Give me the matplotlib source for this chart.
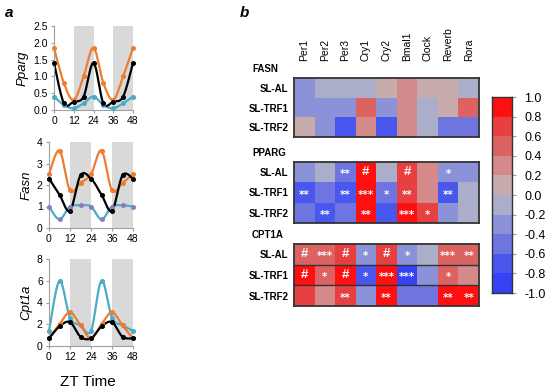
import numpy as np
import matplotlib
matplotlib.use("Agg")
import matplotlib.pyplot as plt
from matplotlib.colors import ListedColormap, BoundaryNorm

plt.rcParams['font.family'] = ['Liberation Sans', 'DejaVu Sans']

# ---------------- data: panel a ----------------
zt = [0, 6, 12, 18, 24, 30, 36, 42, 48]
pparg_orange = [1.85, 0.80, 0.30, 1.00, 1.85, 0.80, 0.30, 1.00, 1.85]
pparg_black = [1.40, 0.20, 0.25, 0.40, 1.40, 0.20, 0.25, 0.40, 1.40]
pparg_cyan = [0.40, 0.15, 0.05, 0.20, 0.40, 0.15, 0.05, 0.20, 0.40]

fasn_orange = [2.50, 3.60, 1.75, 2.10, 2.50, 3.60, 1.75, 2.10, 2.50]
fasn_black = [2.30, 1.55, 0.80, 2.45, 2.30, 1.55, 0.80, 2.45, 2.30]
fasn_cyan = [1.00, 0.40, 1.00, 1.05, 1.00, 0.40, 1.00, 1.05, 1.00]

cpt_orange = [0.70, 2.00, 3.10, 1.90, 0.70, 2.00, 3.10, 1.90, 0.70]
cpt_black = [0.70, 1.80, 2.20, 0.85, 0.70, 1.80, 2.20, 0.85, 0.70]
cpt_cyan = [1.40, 6.00, 2.60, 1.90, 1.40, 6.00, 2.60, 1.90, 1.40]

dark_periods = [(12, 24), (36, 48)]

# ---------------- data: panel b ----------------
genes = ["Per1", "Per2", "Per3", "Cry1", "Cry2", "Bmal1", "Clock", "Reverb", "Rora"]
groups = ["SL-AL", "SL-TRF1", "SL-TRF2"]
fasn_corr = [
    [-0.3, -0.1, -0.1, -0.1, 0.1, 0.3, 0.1, 0.1, -0.1],
    [-0.3, -0.3, -0.3, 0.5, -0.3, 0.3, -0.1, 0.1, 0.5],
    [0.1, -0.3, -0.7, 0.3, -0.7, 0.3, -0.1, -0.5, -0.5],
]
pparg_corr = [
    [-0.3, -0.1, -0.5, 0.9, -0.1, 0.7, 0.3, -0.3, -0.3],
    [-0.7, -0.5, -0.7, 0.9, -0.5, 0.7, 0.3, -0.7, -0.1],
    [-0.5, -0.7, -0.5, 0.9, -0.7, 0.9, 0.7, -0.3, -0.1],
]
cpt_corr = [
    [0.5, 0.5, 0.7, -0.3, 0.7, -0.3, -0.1, 0.5, 0.5],
    [0.9, 0.5, 0.9, -0.7, 0.9, -0.9, -0.3, 0.5, 0.3],
    [0.7, 0.3, 0.7, -0.3, 0.9, -0.5, -0.5, 0.9, 0.9],
]
fasn_sig = [["", "", "", "", "", "", "", "", ""],
            ["", "", "", "", "", "", "", "", ""],
            ["", "", "", "", "", "", "", "", ""]]
pparg_sig = [["", "", "**", "#", "", "#", "", "*", ""],
             ["**", "", "**", "***", "*", "**", "", "**", ""],
             ["", "**", "", "**", "", "***", "*", "", ""]]
cpt_sig = [["#", "***", "#", "*", "#", "*", "", "***", "**"],
           ["#", "*", "#", "*", "***", "***", "", "*", ""],
           ["", "", "**", "", "**", "", "", "**", "**"]]
cbar_ticks = [-1.0, -0.8, -0.6, -0.4, -0.2, 0.0, 0.2, 0.4, 0.6, 0.8, 1.0]

# ---------------- figure ----------------
W, H = 550, 392
fig = plt.figure(figsize=(W / 100, H / 100), dpi=100)


def px_axes(x0, y0, x1, y1):
    return fig.add_axes([x0 / W, 1 - y1 / H, (x1 - x0) / W, (y1 - y0) / H])


def smooth(x, y, n=20):
    x = np.asarray(x, float)
    y = np.asarray(y, float)
    P = np.column_stack([x, y])
    P = np.vstack([P[0], P, P[-1]])
    out = []
    for i in range(1, len(P) - 2):
        p0, p1, p2, p3 = P[i - 1], P[i], P[i + 1], P[i + 2]
        t = np.linspace(0, 1, n, endpoint=False)[:, None]
        seg = 0.5 * ((2 * p1) + (-p0 + p2) * t + (2 * p0 - 5 * p1 + 4 * p2 - p3) * t ** 2
                     + (-p0 + 3 * p1 - 3 * p2 + p3) * t ** 3)
        out.append(seg)
    out.append(P[-2][None, :])
    out = np.vstack(out)
    return out[:, 0], out[:, 1]


ORANGE = '#ED7D31'
CYAN = '#4BACC6'
BLACK = '#000000'


def line_panel(box, series, ylim, yticks, yfmt, ylabel):
    ax = px_axes(*box)
    for a, b in dark_periods:
        ax.axvspan(a, b, color='#d9d9d9', lw=0, zorder=0)
    for ys, c, mc in series:
        sx, sy = smooth(zt, ys)
        ax.plot(sx, sy, color=c, lw=1.6, zorder=2, clip_on=False)
        ax.plot(zt, ys, 'o', color=mc, ms=2.6, zorder=3, clip_on=False)
    ax.set_xlim(0, 48)
    ax.set_ylim(*ylim)
    ax.set_xticks([0, 12, 24, 36, 48])
    ax.set_yticks(yticks)
    ax.set_yticklabels([yfmt.format(v) for v in yticks])
    for s in ['top', 'right']:
        ax.spines[s].set_visible(False)
    for s in ['left', 'bottom']:
        ax.spines[s].set_color('#a0a0a0')
        ax.spines[s].set_linewidth(0.8)
    ax.tick_params(labelsize=7.5, length=2.5, width=0.8, color='#a0a0a0', pad=2)
    ax.set_ylabel(ylabel, fontsize=9.5, style='italic', labelpad=3)
    return ax


line_panel((54, 26, 133, 110),
           [(pparg_cyan, CYAN, CYAN), (pparg_orange, ORANGE, ORANGE), (pparg_black, BLACK, BLACK)],
           (0, 2.5), [0, 0.5, 1.0, 1.5, 2.0, 2.5], "{:.1f}", "Pparg")
line_panel((49, 142, 133, 228),
           [(fasn_cyan, CYAN, '#8e7cc3'), (fasn_orange, ORANGE, ORANGE), (fasn_black, BLACK, BLACK)],
           (0, 4), [0, 1, 2, 3, 4], "{:.0f}", "Fasn")
line_panel((49, 259, 133, 346),
           [(cpt_cyan, CYAN, CYAN), (cpt_orange, ORANGE, ORANGE), (cpt_black, BLACK, BLACK)],
           (0, 8), [0, 2, 4, 6, 8], "{:.0f}", "Cpt1a")
fig.text(88 / W, 1 - 382 / H, "ZT Time", fontsize=11, ha='center', va='center')

fig.text(5 / W, 1 - 13 / H, "a", fontsize=11, fontweight='bold', style='italic', ha='left', va='center')
fig.text(240 / W, 1 - 13 / H, "b", fontsize=11, fontweight='bold', style='italic', ha='left', va='center')

# ---------------- heatmaps ----------------
cmap_colors = ['#3543f5', '#4a57ee', '#6e74e0', '#8c92d8', '#aaaec8',
               '#c8acac', '#d48a8a', '#dd6262', '#e84040', '#ff1010']
cmap = ListedColormap(cmap_colors)
norm = BoundaryNorm(np.linspace(-1, 1, 11), cmap.N)

blocks = [("FASN", fasn_corr, fasn_sig, (294, 78, 479, 137), False),
          ("PPARG", pparg_corr, pparg_sig, (294, 162, 479, 223), False),
          ("CPT1A", cpt_corr, cpt_sig, (294, 244, 479, 306), True)]

for bi, (title, data, sig, box, rowlines) in enumerate(blocks):
    ax = px_axes(*box)
    arr = np.array(data, float)
    ax.pcolormesh(np.arange(len(genes) + 1), np.arange(len(groups) + 1), arr,
                  cmap=cmap, norm=norm)
    ax.set_xlim(0, len(genes))
    ax.set_ylim(len(groups), 0)
    ax.set_xticks([])
    ax.set_yticks(np.arange(len(groups)) + 0.5)
    ax.set_yticklabels(groups, fontsize=7, fontweight='bold')
    ax.tick_params(axis='y', length=0, pad=4)
    for s in ax.spines.values():
        s.set_color('#333333')
        s.set_linewidth(1.3)
    if rowlines:
        for r in range(1, len(groups)):
            ax.axhline(r, color='#333333', lw=1.0)
    for r in range(len(groups)):
        for c in range(len(genes)):
            t = sig[r][c]
            if not t:
                continue
            if t == "#":
                ax.text(c + 0.5, r + 0.5, t, color='white', fontsize=9.5, fontweight='bold',
                        ha='center', va='center')
            else:
                ax.text(c + 0.5, r + 0.6, t, color='white', fontsize=7.5, fontweight='bold',
                        ha='center', va='center', family='DejaVu Sans')
    fig.text(252 / W, 1 - (box[1] - 9) / H, title, fontsize=7, fontweight='bold',
             ha='left', va='center')
    if bi == 0:
        for c, g in enumerate(genes):
            ax.text(c + 0.5, -0.85, g, rotation=90, fontsize=7.5, ha='center', va='bottom')

# colorbar
cax = px_axes(492, 97, 512, 293)
vals = np.linspace(-0.9, 0.9, 10)
cax.pcolormesh([0, 1], np.linspace(-1, 1, 11), vals[:, None], cmap=cmap, norm=norm)
cax.set_xlim(0, 1)
cax.set_ylim(-1, 1)
cax.set_xticks([])
cax.yaxis.tick_right()
cax.set_yticks(cbar_ticks)
cax.set_yticklabels(["{:.1f}".format(v) for v in cbar_ticks], fontsize=9)
cax.tick_params(axis='y', length=3, width=0.8, pad=6, color='#e08080')
for s in cax.spines.values():
    s.set_color('#333333')
    s.set_linewidth(1.0)

fig.savefig("out.png", dpi=100)
